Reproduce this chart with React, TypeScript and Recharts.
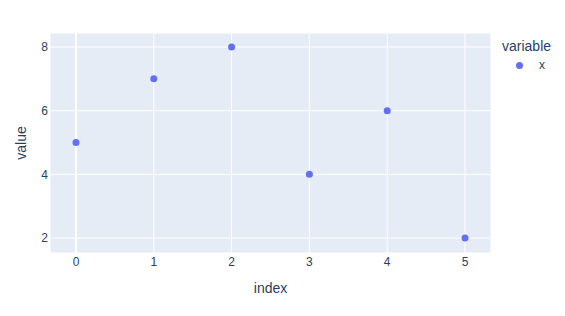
import React from 'react';
import { ScatterChart, Scatter, XAxis, YAxis, CartesianGrid, ReferenceLine } from 'recharts';

const indices = [0, 1, 2, 3, 4, 5];
const values = [5, 7, 8, 4, 6, 2];
const xTicks = [0, 1, 2, 3, 4, 5];
const yTicks = [2, 4, 6, 8];
const seriesName = 'x';
const legendTitle = 'variable';

const data = indices.map((i, k) => ({ index: i, value: values[k] }));

const FONT = 'Arial, "Liberation Sans", sans-serif';
const TEXT = '#2a3f5f';
const COLOR = '#636efa';

export default function App() {
  return (
    <div style={{ position: 'relative', width: 565, height: 316, fontFamily: FONT }}>
      <ScatterChart
        width={565}
        height={316}
        margin={{ top: 25, right: 82, bottom: 0, left: 0 }}
        style={{ fontFamily: FONT }}
      >
        <CartesianGrid stroke="#ffffff" strokeWidth={1} fill="#E5ECF6" vertical horizontal />
        <XAxis
          type="number"
          dataKey="index"
          domain={[-0.334, 5.334]}
          ticks={xTicks}
          allowDataOverflow
          height={71}
          axisLine={false}
          tickLine={false}
          tickSize={0}
          tickMargin={4}
          tick={{ fill: TEXT, fontSize: 12, fontFamily: FONT }}
          label={{ value: 'index', position: 'insideBottom', offset: 31, fill: TEXT, fontSize: 14, fontFamily: FONT }}
        />
        <YAxis
          type="number"
          dataKey="value"
          domain={[1.53, 8.44]}
          ticks={yTicks}
          allowDataOverflow
          width={42}
          axisLine={false}
          tickLine={false}
          tickSize={0}
          tickMargin={2}
          tick={{ fill: TEXT, fontSize: 12, fontFamily: FONT }}
          label={{ value: 'value', angle: -90, position: 'insideLeft', offset: 13, fill: TEXT, fontSize: 14, fontFamily: FONT, style: { textAnchor: 'middle' } }}
        />
        <ReferenceLine x={0} stroke="#ffffff" strokeWidth={2} />
        <Scatter
          name={seriesName}
          data={data}
          fill={COLOR}
          isAnimationActive={false}
          shape={(p: any) => <circle cx={p.cx} cy={p.cy} r={3.5} fill={COLOR} />}
        />
      </ScatterChart>
      <div style={{ position: 'absolute', left: 494, top: 29, fontSize: 14, lineHeight: '18px', color: TEXT, whiteSpace: 'nowrap' }}>{legendTitle}</div>
      <div style={{ position: 'absolute', left: 507.5, top: 53.5, width: 7, height: 7, borderRadius: '50%', background: COLOR }} />
      <div style={{ position: 'absolute', left: 531, top: 49, fontSize: 12, lineHeight: '16px', color: TEXT }}>{seriesName}</div>
    </div>
  );
}
